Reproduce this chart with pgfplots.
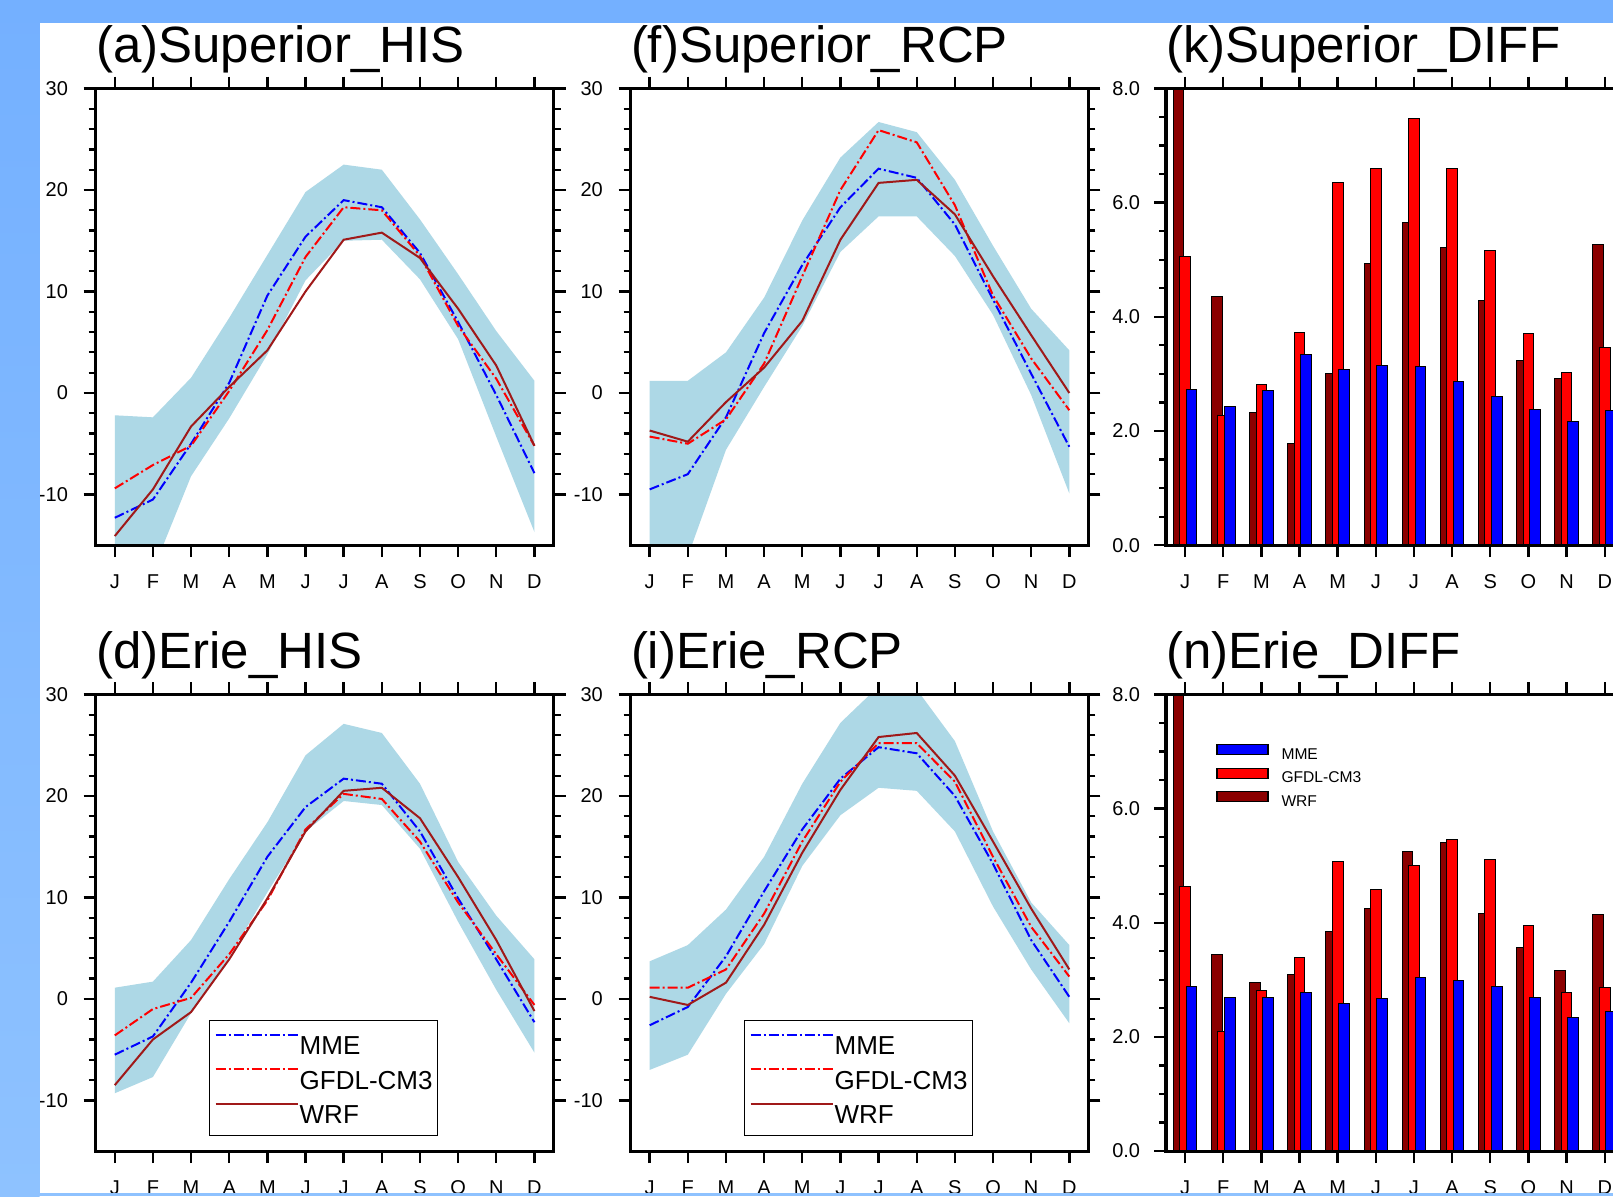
\documentclass[border=0pt]{standalone}
\usepackage{fontspec}
\setmainfont{Liberation Sans}
\usepackage{pgfplots}
\usepackage{pgfplotstable}
\pgfplotsset{compat=1.18}

\definecolor{shadeblue}{RGB}{173,216,230}
\definecolor{mmeblue}{RGB}{0,0,255}
\definecolor{gfdlred}{RGB}{255,0,0}
\definecolor{wrfline}{RGB}{160,25,25}
\definecolor{wrfbar}{RGB}{139,0,0}
\definecolor{frametop}{RGB}{116,176,255}
\definecolor{framebot}{RGB}{142,194,255}

% monthly 2m temperature: MME, GFDL-CM3, WRF
\pgfplotstableread{
m mme gfdl wrf
1 -12.3 -9.4 -14.1
2 -10.5 -7.1 -9.5
3 -5.0 -5.2 -3.3
4 1.0 0.2 0.6
5 9.6 6.2 4.2
6 15.4 13.4 10.0
7 19.0 18.3 15.1
8 18.3 18.0 15.8
9 13.8 13.5 13.3
10 7.0 6.6 8.3
11 -0.2 1.4 2.7
12 -7.9 -5.2 -5.2
}\supHIS
\pgfplotstableread{
m mme gfdl wrf
1 -9.5 -4.3 -3.7
2 -8.0 -5.0 -4.8
3 -2.4 -2.6 -0.9
4 5.9 2.9 2.5
5 12.6 11.5 7.1
6 18.3 20.0 15.1
7 22.1 25.9 20.7
8 21.2 24.7 21.0
9 16.6 18.5 17.6
10 9.2 9.6 11.5
11 1.9 3.4 5.7
12 -5.3 -1.7 0.0
}\supRCP
\pgfplotstableread{
m mme gfdl wrf
1 -5.5 -3.6 -8.5
2 -3.7 -1.0 -4.0
3 1.6 0.1 -1.3
4 7.6 4.4 3.9
5 14.0 9.7 9.9
6 18.9 16.7 16.5
7 21.7 20.2 20.5
8 21.2 19.7 20.8
9 16.5 15.5 17.8
10 9.9 9.5 12.0
11 3.9 4.4 5.8
12 -2.3 -0.6 -1.2
}\erieHIS
\pgfplotstableread{
m mme gfdl wrf
1 -2.6 1.1 0.2
2 -0.8 1.1 -0.6
3 4.2 2.9 1.6
4 10.6 8.4 7.3
5 16.7 15.5 14.4
6 21.7 21.4 20.6
7 24.8 25.2 25.8
8 24.2 25.2 26.2
9 20.0 21.4 22.0
10 13.3 14.0 15.5
11 5.8 7.1 8.9
12 0.2 2.2 2.9
}\erieRCP
% RCP minus HIS
\pgfplotstableread{
m mme gfdl wrf
1 2.73 5.06 8.0
2 2.43 2.27 4.35
3 2.71 2.82 2.33
4 3.34 3.72 1.78
5 3.07 6.35 3.01
6 3.14 6.60 4.93
7 3.13 7.47 5.65
8 2.87 6.60 5.21
9 2.60 5.16 4.29
10 2.37 3.71 3.23
11 2.16 3.03 2.92
12 2.36 3.46 5.27
}\supDIFF
\pgfplotstableread{
m mme gfdl wrf
1 2.89 4.63 8.0
2 2.69 2.09 3.45
3 2.69 2.82 2.95
4 2.78 3.40 3.09
5 2.59 5.08 3.85
6 2.68 4.58 4.25
7 3.04 5.01 5.25
8 2.99 5.46 5.41
9 2.89 5.11 4.16
10 2.69 3.96 3.57
11 2.34 2.78 3.17
12 2.44 2.86 4.14
}\erieDIFF

\pgfplotsset{
  panel/.style={
    width=228.9pt, height=228.35pt, scale only axis,
    xmin=0.5, xmax=12.5,
    xtick={1,...,12}, xticklabels={J,F,M,A,M,J,J,A,S,O,N,D},
    tick align=outside, tick pos=both,
    major tick length=6pt, minor tick length=3.5pt,
    major tick style={black, line width=1.2pt},
    minor tick style={black, line width=1.1pt},
    axis line style={line width=1.6pt},
    axis on top,
    tick label style={font=\fontsize{10}{12}\selectfont},
    /pgf/number format/assume math mode=true,
    xticklabel style={anchor=base, yshift=-15.8pt, inner sep=0pt},
    title style={at={(0,1)}, anchor=base west, yshift=7pt,
      inner sep=0pt, font=\fontsize{25.5}{30}\selectfont},
  },
  linepanel/.style={panel,
    ymin=-15, ymax=30, ytick={-10,0,10,20,30}, minor y tick num=4,
    yticklabel style={anchor=east, xshift=-7.7pt, inner sep=0pt},
  },
  barpanel/.style={panel,
    ymin=0, ymax=8, ytick={0,2,4,6,8}, minor y tick num=3,
    yticklabel style={anchor=east, xshift=-6.75pt, inner sep=0pt,
      /pgf/number format/.cd, fixed, fixed zerofill, precision=1},
  },
  linelegend/.style={
    legend style={at={(0.2475,0.032)}, anchor=south west, draw=black,
      line width=0.7pt, inner xsep=2.5pt, inner ysep=5pt,
      font=\fontsize{13}{15}\selectfont, column sep=0.5pt, row sep=4.25pt,
      nodes={inner sep=0pt, text height=12pt, text depth=1pt}},
    legend cell align=left,
    legend image code/.code={\draw[##1] (0pt,4.5pt) -- (41pt,4.5pt);},
  },
  barlegend/.style={draw=black, line width=0.6pt,
    legend image code/.code={\draw[##1] (0pt,0.3pt) rectangle (25.5pt,5.3pt);}},
  band/.style={fill=shadeblue, draw=none, forget plot},
  mme/.style={mmeblue, line width=1pt, dash pattern=on 5pt off 1.5pt on 1pt off 1.5pt},
  gfdl/.style={gfdlred, line width=1pt, dash pattern=on 5pt off 1.5pt on 1pt off 1.5pt},
  wrf/.style={wrfline, line width=1pt},
  barbox/.style={draw=black, line width=0.5pt, ybar, bar width=0.28, forget plot},
}

\begin{document}
\begin{tikzpicture}
\fill[white] (0,0) rectangle (806.5pt,-598pt);
\begin{pgfinterruptboundingbox}

% ---- top row: Superior
\begin{axis}[linepanel, at={(47.85pt,-44.25pt)}, anchor=north west,
  title={(a)Superior\_HIS}]
  % ensemble range: upper edge Jan..Dec, then lower edge Dec..Jan
  \addplot[band] coordinates {(1,-2.2) (2,-2.4) (3,1.5) (4,7.4) (5,13.6) (6,19.8)
    (7,22.5) (8,22.0) (9,17.1) (10,11.7) (11,6.1) (12,1.2)
    (12,-13.7) (11,-4.3) (10,5.3) (9,11.2) (8,15.1) (7,15.0) (6,11.1) (5,3.8)
    (4,-2.5) (3,-8.2) (2,-17.5) (1,-20)} -- cycle;
  \addplot[mme] table[x=m, y=mme] {\supHIS};
  \addplot[gfdl] table[x=m, y=gfdl] {\supHIS};
  \addplot[wrf] table[x=m, y=wrf] {\supHIS};
\end{axis}

\begin{axis}[linepanel, at={(315.3pt,-44.25pt)}, anchor=north west,
  title={(f)Superior\_RCP}]
  \addplot[band] coordinates {(1,1.2) (2,1.2) (3,4.0) (4,9.4) (5,17.0) (6,23.2)
    (7,26.7) (8,25.7) (9,21.0) (10,14.5) (11,8.3) (12,4.2)
    (12,-9.9) (11,-0.2) (10,7.7) (9,13.5) (8,17.4) (7,17.4) (6,13.9) (5,6.6)
    (4,0.6) (3,-5.6) (2,-16.1) (1,-22)} -- cycle;
  \addplot[mme] table[x=m, y=mme] {\supRCP};
  \addplot[gfdl] table[x=m, y=gfdl] {\supRCP};
  \addplot[wrf] table[x=m, y=wrf] {\supRCP};
\end{axis}

\begin{axis}[barpanel, at={(583pt,-44.25pt)}, anchor=north west,
  title={(k)Superior\_DIFF}]
  \addplot[barbox, bar shift=-0.17, fill=wrfbar] table[x=m, y=wrf] {\supDIFF};
  \addplot[barbox, bar shift=0, fill=gfdlred] table[x=m, y=gfdl] {\supDIFF};
  \addplot[barbox, bar shift=0.17, fill=mmeblue] table[x=m, y=mme] {\supDIFF};
\end{axis}

% ---- bottom row: Erie
\begin{axis}[linepanel, linelegend, at={(47.85pt,-347.2pt)}, anchor=north west,
  title={(d)Erie\_HIS}]
  \addplot[band] coordinates {(1,1.1) (2,1.7) (3,5.8) (4,11.8) (5,17.4) (6,24.0)
    (7,27.1) (8,26.2) (9,21.2) (10,13.5) (11,8.2) (12,3.9)
    (12,-5.3) (11,0.9) (10,7.6) (9,14.8) (8,19.1) (7,19.5) (6,16.5) (5,10.5)
    (4,4.1) (3,-1.4) (2,-7.7) (1,-9.3)} -- cycle;
  \addplot[mme] table[x=m, y=mme] {\erieHIS};
  \addplot[gfdl] table[x=m, y=gfdl] {\erieHIS};
  \addplot[wrf] table[x=m, y=wrf] {\erieHIS};
  \legend{MME,GFDL-CM3,WRF}
\end{axis}

\begin{axis}[linepanel, linelegend, at={(315.3pt,-347.2pt)}, anchor=north west,
  title={(i)Erie\_RCP}]
  \addplot[band] coordinates {(1,3.7) (2,5.3) (3,8.8) (4,14.0) (5,21.2) (6,27.2)
    (7,30.8) (8,30.5) (9,25.4) (10,16.5) (11,9.5) (12,5.3)
    (12,-2.4) (11,2.9) (10,9.1) (9,16.5) (8,20.5) (7,20.8) (6,18.1) (5,13.1)
    (4,5.4) (3,0.5) (2,-5.5) (1,-7.0)} -- cycle;
  \addplot[mme] table[x=m, y=mme] {\erieRCP};
  \addplot[gfdl] table[x=m, y=gfdl] {\erieRCP};
  \addplot[wrf] table[x=m, y=wrf] {\erieRCP};
  \legend{MME,GFDL-CM3,WRF}
\end{axis}

\begin{axis}[barpanel, at={(583pt,-347.2pt)}, anchor=north west,
  title={(n)Erie\_DIFF},
  legend style={at={(0.109,0.892)}, anchor=north west, draw=none, fill=none,
    inner sep=0pt, font=\fontsize{7.8}{9}\selectfont, column sep=6.5pt,
    row sep=2.6pt, nodes={inner sep=0pt, text height=5.6pt, text depth=1.4pt}},
  legend cell align=left]
  \addplot[barbox, bar shift=-0.17, fill=wrfbar] table[x=m, y=wrf] {\erieDIFF};
  \addplot[barbox, bar shift=0, fill=gfdlred] table[x=m, y=gfdl] {\erieDIFF};
  \addplot[barbox, bar shift=0.17, fill=mmeblue] table[x=m, y=mme] {\erieDIFF};
  \addlegendimage{barlegend, fill=mmeblue}
  \addlegendentry{MME}
  \addlegendimage{barlegend, fill=gfdlred}
  \addlegendentry{GFDL-CM3}
  \addlegendimage{barlegend, fill=wrfbar}
  \addlegendentry{WRF}
\end{axis}

% blue frame of the original screenshot
\shade[top color=frametop, bottom color=framebot] (0,0) rectangle (19.75pt,-598pt);
\fill[frametop] (0,0) rectangle (806.5pt,-11.35pt);
\fill[framebot] (0,-596.5pt) rectangle (806.5pt,-598pt);
\end{pgfinterruptboundingbox}
\end{tikzpicture}
\end{document}
